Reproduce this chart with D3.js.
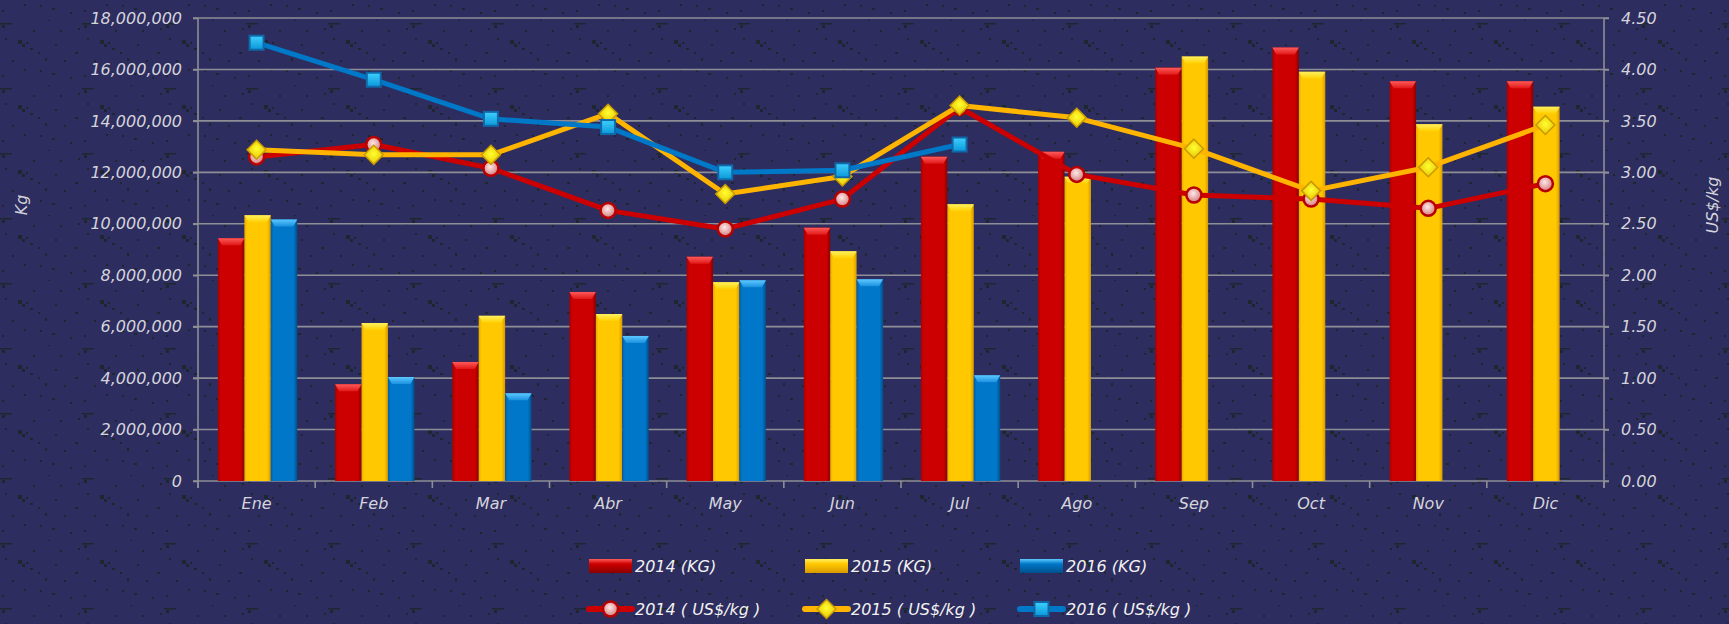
<!DOCTYPE html>
<html>
<head>
<meta charset="utf-8">
<script src="https://cdn.jsdelivr.net/npm/d3@7/dist/d3.min.js"></script>
<style>
  html, body { margin: 0; padding: 0; background: #2e2d5f; }
  svg { display: block; }
  text { font-family: "DejaVu Sans", sans-serif; font-style: italic; }
</style>
</head>
<body>
<svg id="chart" width="1729" height="624"></svg>
<script>
// ---------------- DATA ----------------
const months = ["Ene","Feb","Mar","Abr","May","Jun","Jul","Ago","Sep","Oct","Nov","Dic"];
const kg2014 = [9440000, 3760000, 4630000, 7350000, 8720000, 9850000, 12610000, 12800000, 16070000, 16850000, 15540000, 15540000];
const kg2015 = [10330000, 6140000, 6420000, 6490000, 7730000, 8930000, 10760000, 11830000, 16500000, 15910000, 13870000, 14550000];
const kg2016 = [10170000, 4040000, 3410000, 5640000, 7800000, 7840000, 4110000, null, null, null, null, null];
const usd2014 = [3.15, 3.27, 3.04, 2.63, 2.45, 2.74, 3.63, 2.98, 2.78, 2.74, 2.65, 2.89];
const usd2015 = [3.22, 3.17, 3.17, 3.57, 2.79, 2.96, 3.65, 3.53, 3.23, 2.82, 3.05, 3.46];
const usd2016 = [4.26, 3.90, 3.52, 3.44, 3.00, 3.02, 3.27, null, null, null, null, null];
const leftTicks = [0, 2000000, 4000000, 6000000, 8000000, 10000000, 12000000, 14000000, 16000000, 18000000];
const rightTicks = [0, 0.5, 1.0, 1.5, 2.0, 2.5, 3.0, 3.5, 4.0, 4.5];
const barSeries = ["2014 (KG)", "2015 (KG)", "2016 (KG)"];
const lineSeries = ["2014 ( US$/kg )", "2015 ( US$/kg )", "2016 ( US$/kg )"];
const leftTitle = "Kg";
const rightTitle = "US$/kg";

// ---------------- LAYOUT ----------------
const svg = d3.select("#chart");
const W = 1729, H = 624;
const plot = { left: 198, right: 1604, top: 18, bottom: 481 };

const defs = svg.append("defs");

// background texture pattern (decorative)
const pat = defs.append("pattern").attr("id", "bgpat").attr("patternUnits", "userSpaceOnUse")
  .attr("width", 82).attr("height", 65);
pat.append("rect").attr("width", 82).attr("height", 65).attr("fill", "#2e2d5f");
const specks = [[0,23,12,1.5],[2,25,3,3],[18,40,4,4],[22,44,3,3],[26,42,2,2],[30,48,3,2],[38,52,2,2],[12,60,2,2],[52,8,3,2],[60,30,2,2],[70,12,2,2],[45,58,2,3],[5,38,2,2],[33,30,2,2],[75,52,3,2],[55,44,2,2],[2,10,2,2],[40,5,2,2],[64,60,2,2],[24,4,2,2],[78,28,2,2],[48,20,2,1]];
pat.selectAll("rect.s").data(specks).join("rect").attr("class","s")
  .attr("x", d => d[0]).attr("y", d => d[1]).attr("width", d => d[2]).attr("height", d => d[3])
  .attr("fill", "#1b2628").attr("opacity", 0.85);
svg.append("rect").attr("width", W).attr("height", H).attr("fill", "url(#bgpat)");

// colours
const barCols = [
  { main: "#cc0000", edgeL: "#a80000", edgeR: "#8a0000", top1: "#ff5a5a", top2: "#e01818" },
  { main: "#ffc800", edgeL: "#e8aa00", edgeR: "#d89a00", top1: "#fff060", top2: "#ffd000" },
  { main: "#0077c8", edgeL: "#005fa4", edgeR: "#004f8c", top1: "#5cc8ff", top2: "#1a90e0" }
];
const lineCols = ["#cc0000", "#ffb400", "#0078c8"];

barCols.forEach((c, i) => {
  const g = defs.append("linearGradient").attr("id", "barg" + i).attr("x1", "0").attr("x2", "1").attr("y1", "0").attr("y2", "0");
  g.append("stop").attr("offset", "0%").attr("stop-color", c.edgeL);
  g.append("stop").attr("offset", "10%").attr("stop-color", c.main);
  g.append("stop").attr("offset", "86%").attr("stop-color", c.main);
  g.append("stop").attr("offset", "100%").attr("stop-color", c.edgeR);
  const t = defs.append("linearGradient").attr("id", "bart" + i).attr("x1", "0").attr("x2", "0").attr("y1", "0").attr("y2", "1");
  t.append("stop").attr("offset", "0%").attr("stop-color", c.top1);
  t.append("stop").attr("offset", "100%").attr("stop-color", c.top2);
});
// marker gradients
const rg = defs.append("radialGradient").attr("id", "mk0").attr("cx", "45%").attr("cy", "40%").attr("r", "60%");
rg.append("stop").attr("offset", "0%").attr("stop-color", "#ffe8e8");
rg.append("stop").attr("offset", "100%").attr("stop-color", "#d27a7a");
const yg = defs.append("radialGradient").attr("id", "mk1").attr("cx", "50%").attr("cy", "45%").attr("r", "60%");
yg.append("stop").attr("offset", "0%").attr("stop-color", "#ffff30");
yg.append("stop").attr("offset", "100%").attr("stop-color", "#e6c000");
const bg = defs.append("linearGradient").attr("id", "mk2").attr("x1", "0").attr("x2", "0").attr("y1", "0").attr("y2", "1");
bg.append("stop").attr("offset", "0%").attr("stop-color", "#3fd0ff");
bg.append("stop").attr("offset", "100%").attr("stop-color", "#0a98d8");

// ---------------- SCALES ----------------
const x = d3.scaleBand().domain(months).range([plot.left, plot.right]).padding(0);
const bw = x.bandwidth();
const x1 = d3.scaleBand().domain([0, 1, 2]).range([bw * 0.17, bw * 0.847]).padding(0);
const yL = d3.scaleLinear().domain([0, 18000000]).range([plot.bottom, plot.top]);
const yR = d3.scaleLinear().domain([0, 4.5]).range([plot.bottom, plot.top]);

const axisCol = "#8e8e96";
const labelCol = "#d4d4dc";

// gridlines
svg.append("g").selectAll("line").data(leftTicks).join("line")
  .attr("x1", plot.left - 5).attr("x2", plot.right + 5)
  .attr("y1", d => yL(d)).attr("y2", d => yL(d))
  .attr("stroke", axisCol).attr("stroke-width", 1.6);

// vertical axis lines
svg.append("line").attr("x1", plot.left).attr("x2", plot.left).attr("y1", plot.top).attr("y2", plot.bottom + 7)
  .attr("stroke", axisCol).attr("stroke-width", 1.6);
svg.append("line").attr("x1", plot.right).attr("x2", plot.right).attr("y1", plot.top).attr("y2", plot.bottom + 7)
  .attr("stroke", axisCol).attr("stroke-width", 1.6);

// left axis
const gL = svg.append("g").attr("transform", `translate(${plot.left},0)`)
  .call(d3.axisLeft(yL).tickValues(leftTicks).tickFormat(d3.format(",")).tickSize(5).tickPadding(11));
gL.select(".domain").remove();
gL.selectAll(".tick line").attr("stroke", axisCol).attr("stroke-width", 1.6);
gL.selectAll(".tick text").attr("fill", labelCol).style("font-size", "16px").style("font-family", "DejaVu Sans").style("font-style", "italic");

// right axis
const gR = svg.append("g").attr("transform", `translate(${plot.right},0)`)
  .call(d3.axisRight(yR).tickValues(rightTicks).tickFormat(d3.format(".2f")).tickSize(5).tickPadding(12));
gR.select(".domain").remove();
gR.selectAll(".tick line").attr("stroke", axisCol).attr("stroke-width", 1.6);
gR.selectAll(".tick text").attr("fill", labelCol).style("font-size", "16px").style("font-family", "DejaVu Sans").style("font-style", "italic");

// bottom axis labels
const gB = svg.append("g").attr("transform", `translate(0,${plot.bottom})`)
  .call(d3.axisBottom(x).tickSize(0).tickPadding(17));
gB.select(".domain").remove();
gB.selectAll(".tick text").attr("fill", labelCol).style("font-size", "16px").style("font-family", "DejaVu Sans").style("font-style", "italic");
// band boundary ticks
const edges = months.map(m => x(m)).concat([plot.right]);
svg.append("g").selectAll("line").data(edges).join("line")
  .attr("x1", d => d).attr("x2", d => d).attr("y1", plot.bottom).attr("y2", plot.bottom + 7)
  .attr("stroke", axisCol).attr("stroke-width", 1.6);

// axis titles
svg.append("text").attr("transform", `translate(27,205) rotate(-90)`).attr("text-anchor", "middle")
  .attr("fill", labelCol).style("font-size", "16px").text(leftTitle);
svg.append("text").attr("transform", `translate(1718,205) rotate(-90)`).attr("text-anchor", "middle")
  .attr("fill", labelCol).style("font-size", "16px").text(rightTitle);

// ---------------- BARS ----------------
const kgData = [kg2014, kg2015, kg2016];
const barG = svg.append("g");
kgData.forEach((arr, si) => {
  const pts = months.map((m, i) => ({ m, v: arr[i] })).filter(d => d.v != null);
  const g = barG.append("g");
  const bx = d => x(d.m) + x1(si);
  const w = x1.bandwidth();
  g.selectAll("rect.body").data(pts).join("rect").attr("class", "body")
    .attr("x", bx).attr("y", d => yL(d.v)).attr("width", w).attr("height", d => plot.bottom - yL(d.v))
    .attr("fill", `url(#barg${si})`);
  g.selectAll("path.cap").data(pts).join("path").attr("class", "cap")
    .attr("d", d => {
      const x0 = bx(d), y0 = yL(d.v);
      return `M${x0},${y0} L${x0 + w},${y0} L${x0 + w - 4},${y0 + 7} L${x0 + 4},${y0 + 7} Z`;
    })
    .attr("fill", `url(#bart${si})`);
});

// ---------------- LINES ----------------
const usdData = [usd2014, usd2015, usd2016];
const line = d3.line().defined(d => d.v != null).x(d => x(d.m) + bw / 2).y(d => yR(d.v));
function drawMarker(sel, si, cx, cy) {
  if (si === 0) {
    sel.append("circle").attr("cx", cx).attr("cy", cy).attr("r", 7.5)
      .attr("fill", "url(#mk0)").attr("stroke", "#b80000").attr("stroke-width", 2.5);
  } else if (si === 1) {
    const r = 9.5;
    sel.append("path").attr("d", `M${cx},${cy - r} L${cx + r},${cy} L${cx},${cy + r} L${cx - r},${cy} Z`)
      .attr("fill", "url(#mk1)").attr("stroke", "#c89a00").attr("stroke-width", 1.5);
  } else {
    const s = 14;
    sel.append("rect").attr("x", cx - s / 2).attr("y", cy - s / 2).attr("width", s).attr("height", s)
      .attr("fill", "url(#mk2)").attr("stroke", "#1068a8").attr("stroke-width", 2);
  }
}
usdData.forEach((arr, si) => {
  const pts = months.map((m, i) => ({ m, v: arr[i] }));
  const g = svg.append("g");
  g.append("path").datum(pts).attr("d", line).attr("fill", "none")
    .attr("stroke", lineCols[si]).attr("stroke-width", 5).attr("stroke-linejoin", "round");
  pts.filter(d => d.v != null).forEach(d => drawMarker(g, si, x(d.m) + bw / 2, yR(d.v)));
});

// ---------------- LEGEND ----------------
const legX = [589, 805, 1020];
const leg = svg.append("g");
barSeries.forEach((name, i) => {
  const g = leg.append("g");
  const lg = defs.append("linearGradient").attr("id", "legb" + i).attr("x1", "0").attr("x2", "0").attr("y1", "0").attr("y2", "1");
  lg.append("stop").attr("offset", "0%").attr("stop-color", barCols[i].top1);
  lg.append("stop").attr("offset", "35%").attr("stop-color", barCols[i].main);
  lg.append("stop").attr("offset", "100%").attr("stop-color", barCols[i].edgeR);
  g.append("rect").attr("x", legX[i]).attr("y", 559).attr("width", 43).attr("height", 14)
    .attr("fill", `url(#legb${i})`);
  g.append("text").attr("x", legX[i] + 46).attr("y", 572).attr("fill", "#f2f2f2")
    .style("font-size", "16px").text(name);
});
lineSeries.forEach((name, i) => {
  const g = leg.append("g");
  g.append("line").attr("x1", legX[i]).attr("x2", legX[i] + 43).attr("y1", 609).attr("y2", 609)
    .attr("stroke", lineCols[i]).attr("stroke-width", 6).attr("stroke-linecap", "round");
  drawMarker(g, i, legX[i] + 21.5, 609);
  g.append("text").attr("x", legX[i] + 46).attr("y", 615).attr("fill", "#f2f2f2")
    .style("font-size", "16px").text(name);
});
</script>
</body>
</html>
